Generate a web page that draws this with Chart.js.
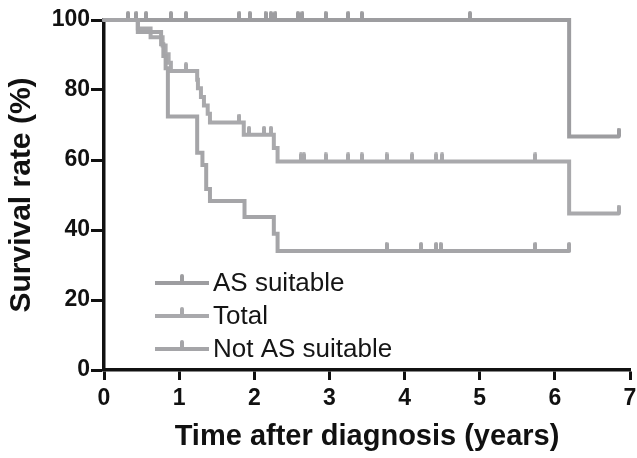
<!DOCTYPE html>
<html>
<head>
<meta charset="utf-8">
<script src="https://cdn.jsdelivr.net/npm/chart.js@4.4.1/dist/chart.umd.min.js"></script>
<style>
  html, body { margin: 0; padding: 0; background: #fff; }
</style>
</head>
<body>
<canvas id="km" width="637" height="458"></canvas>
<script>
// Kaplan-Meier curves (time in years, survival in %)
const seriesNames = ['AS suitable', 'Total', 'Not AS suitable'];
const seriesColors = ['#9d9da0', '#a9a9ac', '#a5a5a8'];

const asTimes = [0, 6.19, 6.85];
const asSurv  = [100, 66.7, 66.7];
const asCensTimes = [0.32, 0.43, 0.56, 0.89, 1.09, 1.80, 1.94, 2.15, 2.22, 2.28, 2.58, 2.64, 2.95, 3.25, 3.43, 4.87, 6.85];
const asCensSurv  = [100, 100, 100, 100, 100, 100, 100, 100, 100, 100, 100, 100, 100, 100, 100, 100, 66.7];

const totalTimes = [0, 0.45, 0.62, 0.78, 0.82, 0.86, 0.89, 1.24, 1.25, 1.29, 1.33, 1.38, 1.41, 1.86, 2.26, 2.31, 6.19, 6.85];
const totalSurv  = [100, 97.6, 95.1, 92.7, 90.2, 87.8, 85.4, 82.9, 80.5, 78.0, 75.6, 73.2, 70.7, 67.2, 63.4, 59.6, 44.7, 44.7];
const totalCensTimes = [1.09, 1.80, 1.93, 2.13, 2.22, 2.62, 2.66, 2.95, 3.25, 3.43, 3.76, 4.10, 4.42, 4.50, 5.74, 6.85];
const totalCensSurv  = [85.4, 70.7, 67.2, 67.2, 67.2, 59.6, 59.6, 59.6, 59.6, 59.6, 59.6, 59.6, 59.6, 59.6, 59.6, 44.7];

const notTimes = [0, 0.45, 0.76, 0.79, 0.82, 0.85, 1.24, 1.31, 1.36, 1.41, 1.87, 2.26, 2.31, 6.19];
const notSurv  = [100, 96.6, 93.1, 89.7, 86.2, 72.4, 62.1, 58.6, 51.7, 48.3, 43.7, 38.9, 34.0, 34.0];
const notCensTimes = [3.76, 4.22, 4.42, 4.48, 5.74, 6.19];
const notCensSurv  = [34.0, 34.0, 34.0, 34.0, 34.0, 34.0];

const xTicks = [0, 1, 2, 3, 4, 5, 6, 7];
const yTicks = [0, 20, 40, 60, 80, 100];

function pts(xs, ys) {
  return xs.map((x, i) => ({ x: x, y: ys[i] }));
}

// small upward censor mark, sits on top of the line
function censorMark(color) {
  const c = document.createElement('canvas');
  c.width = 4; c.height = 18;
  const g = c.getContext('2d');
  g.fillStyle = color;
  g.beginPath();
  g.arc(2, 2, 2, Math.PI, 0);
  g.lineTo(4, 9);
  g.lineTo(0, 9);
  g.closePath();
  g.fill();
  return c;
}

const marks = seriesColors.map(censorMark);

function curve(i, xs, ys) {
  return {
    label: seriesNames[i],
    data: pts(xs, ys),
    showLine: true,
    stepped: 'before',
    borderColor: seriesColors[i],
    borderWidth: 4,
    borderCapStyle: 'round',
    borderJoinStyle: 'miter',
    pointRadius: 0,
    clip: false
  };
}

function censors(i, xs, ys) {
  return {
    label: seriesNames[i] + ' censored',
    data: pts(xs, ys),
    showLine: false,
    pointStyle: marks[i],
    pointRadius: 6,
    clip: false
  };
}

const legendPlugin = {
  id: 'kmLegend',
  afterDatasetsDraw(chart) {
    const ctx = chart.ctx;
    const a = chart.chartArea;
    ctx.save();
    seriesNames.forEach((name, i) => {
      const y = a.top + 263 + i * 33;
      const x0 = a.left + 51;
      ctx.strokeStyle = seriesColors[i];
      ctx.lineWidth = 4;
      ctx.beginPath();
      ctx.moveTo(x0, y);
      ctx.lineTo(x0 + 54, y);
      ctx.stroke();
      ctx.drawImage(marks[i], x0 + 25, y - 9);
      ctx.fillStyle = '#151515';
      ctx.font = '26px "Liberation Sans", Arial, sans-serif';
      ctx.textBaseline = 'middle';
      ctx.fillText(name, x0 + 58, y + 1);
    });
    ctx.restore();
  }
};

const axisFont = { family: '"Liberation Sans", Arial, sans-serif', size: 23, weight: 'bold' };
const xTitleFont = { family: '"Liberation Sans", Arial, sans-serif', size: 29, weight: 'bold' };
const yTitleFont = { family: '"Liberation Sans", Arial, sans-serif', size: 30, weight: 'bold' };

new Chart(document.getElementById('km').getContext('2d'), {
  type: 'scatter',
  data: {
    datasets: [
      curve(2, notTimes, notSurv),
      curve(1, totalTimes, totalSurv),
      curve(0, asTimes, asSurv),
      censors(2, notCensTimes, notCensSurv),
      censors(1, totalCensTimes, totalCensSurv),
      censors(0, asCensTimes, asCensSurv)
    ]
  },
  options: {
    responsive: false,
    animation: false,
    layout: { padding: { left: 0, right: 4, top: 20, bottom: 0 } },
    plugins: {
      legend: { display: false },
      tooltip: { enabled: false }
    },
    scales: {
      x: {
        type: 'linear',
        min: 0,
        max: 7,
        afterBuildTicks(scale) { scale.ticks = xTicks.map(v => ({ value: v })); },
        afterFit(scale) { scale.height = 88; scale.paddingRight = 0; scale.paddingLeft = 0; },
        grid: { display: true, drawOnChartArea: false, drawTicks: true, tickLength: 10, tickWidth: 3, color: '#111' },
        border: { display: true, width: 3.5, color: '#111' },
        ticks: { color: '#111', font: axisFont, padding: 5, maxRotation: 0 },
        title: { display: true, text: 'Time after diagnosis (years)', color: '#111', font: xTitleFont, padding: { top: 0, bottom: 4 } }
      },
      y: {
        type: 'linear',
        min: 0,
        max: 100,
        afterBuildTicks(scale) { scale.ticks = yTicks.map(v => ({ value: v })); },
        afterFit(scale) { scale.width = 104; },
        grid: { display: true, drawOnChartArea: false, drawTicks: true, tickLength: 13, tickWidth: 3, color: '#111' },
        border: { display: true, width: 3.5, color: '#111' },
        ticks: { color: '#111', font: axisFont, padding: 1 },
        title: { display: true, text: 'Survival rate (%)', color: '#111', font: yTitleFont, padding: { top: 4, bottom: 0 } }
      }
    }
  },
  plugins: [legendPlugin]
});
</script>
</body>
</html>
